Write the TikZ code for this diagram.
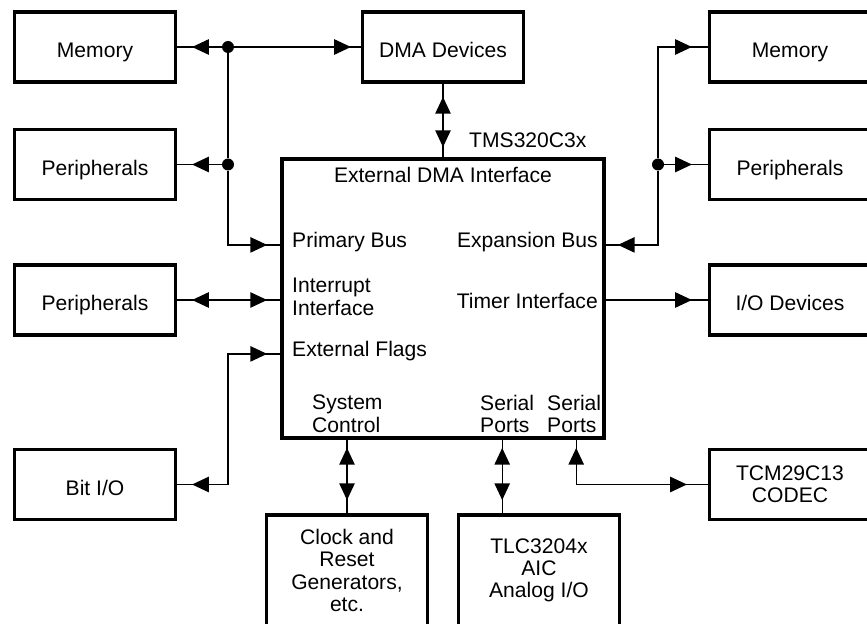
\documentclass[tikz,border=0pt]{standalone}
\usepackage{fontspec}
\setmainfont{Liberation Sans}
\usetikzlibrary{arrows.meta,positioning,decorations.markings}
\newcommand{\labelfont}{\fontsize{18}{19}\selectfont}
\tikzset{blk/.style={draw, line width=3pt, minimum width=48.2mm, minimum height=21.1mm, align=center, inner sep=1pt, font=\labelfont}}
\tikzset{oneline/.style={text height=18pt, text depth=0pt}}
\tikzset{port/.style={inner sep=0pt, align=left, font=\labelfont}}
\tikzset{wire/.style={line width=1.1pt, >={Triangle[length=5mm, width=4.6mm]}}}
\tikzset{dot/.style={circle, fill, inner sep=0pt, minimum size=3.6mm}}
\tikzset{headtip/.style={postaction={decorate, decoration={markings, mark=at position -#1 with {\arrow{>}}}}}, headtip/.default=3.9mm}
\tikzset{tailtip/.style={postaction={decorate, decoration={markings, mark=at position #1 with {\arrowreversed{>}}}}}, tailtip/.default=3.9mm}

\begin{document}
\begin{tikzpicture}[x=0.3mm, y=-0.3mm]
  \clip (0,0) rectangle (867,624);
  \fill[white] (0,0) rectangle (867,624);

  % left column
  \node[blk, oneline] (memL) at (95,47) {Memory};
  \node[blk, oneline] (perL1) at (95,164.5) {Peripherals};
  \node[blk, oneline] (perL2) at (95,300) {Peripherals};
  \node[blk, oneline] (bitio) at (95,484.5) {Bit I/O};

  % right column
  \node[blk, oneline] (memR) at (790,47) {Memory};
  \node[blk, oneline] (perR) at (790,164.5) {Peripherals};
  \node[blk, oneline] (iodev) at (790,300) {I/O Devices};
  \node[blk] (codec) at (790,484.5) {TCM29C13\\CODEC};

  % middle
  \node[blk, oneline] (dma) at (443,47) {DMA Devices};
  \node[blk, minimum width=96.7mm, minimum height=83.8mm] (main) at (443,298.5) {};
  \node[blk, minimum height=33.4mm] (clock) at (347,570.5) {Clock and\\Reset\\Generators,\\etc.};
  \node[blk, minimum height=33.4mm] (tlc) at (539,570.5) {TLC3204x\\AIC\\Analog I/O};

  % texts of the processor
  \node[port, anchor=base west] (chip) at (469,148) {TMS320C3x};
  \node[port, anchor=base] (xdma) at (443,183) {External DMA Interface};
  \node[port, anchor=base west] (pbus) at (292,248) {Primary Bus};
  \node[port, anchor=north west] (intr) at (292,278) {Interrupt\\Interface};
  \node[port, anchor=base west] (eflags) at (292,357) {External Flags};
  \node[port, anchor=base east] (xbus) at (598,248) {Expansion Bus};
  \node[port, anchor=base east] (timer) at (598,308) {Timer Interface};
  \node[port, anchor=north west] (sysctl) at (312,395) {System\\Control};
  \node[port, anchor=north west] (sp1) at (480,395) {Serial\\Ports};
  \node[port, anchor=north west] (sp2) at (547,395) {Serial\\Ports};
  \coordinate (sp1x) at ([xshift=-1.5mm]sp1.south);
  \coordinate (sp2x) at ([xshift=0.6mm]sp2.south);

  % junctions
  \node[dot] (jl1) at (228,47) {};
  \node[dot] (jl2) at (228,164.5) {};
  \node[dot] (jr1) at (658,164.5) {};

  % primary bus
  \draw[wire] (jl1) -- (jl2);
  \draw[wire, headtip=4.5mm] (jl1) -- (memL.east);
  \draw[wire, headtip=3mm] (jl1) -- (dma.west);
  \draw[wire, headtip=4.5mm] (jl2) -- (perL1.east);
  \draw[wire, headtip] (jl2) |- (main.west |- pbus.mid);
  \draw[wire, tailtip, headtip=3mm] (dma.south) -- (dma.south |- main.north);

  % interrupts and flags
  \draw[wire, tailtip=4.5mm, headtip] (perL2.east) -- (perL2.east -| main.west);
  \draw[wire, tailtip=4.5mm, headtip] (bitio.east) -- (bitio.east -| jl1) |- (main.west |- eflags.mid);

  % expansion bus
  \draw[wire, headtip=4.8mm] (jr1) |- (memR.west);
  \draw[wire, headtip=4.8mm] (jr1) -- (perR.west);
  \draw[wire, headtip=3.6mm] (jr1) |- (main.east |- xbus.mid);
  \draw[wire, headtip=4.8mm] (main.east |- iodev.west) -- (iodev.west);

  % bottom side
  \draw[wire, tailtip=2.4mm, headtip] (main.south -| clock.north) -- (clock.north);
  \draw[wire, tailtip=2.4mm, headtip] (main.south -| sp1x) -- (tlc.north -| sp1x);
  \draw[wire, tailtip=2.4mm, headtip=6.3mm] (main.south -| sp2x) |- (codec.west);
\end{tikzpicture}
\end{document}
